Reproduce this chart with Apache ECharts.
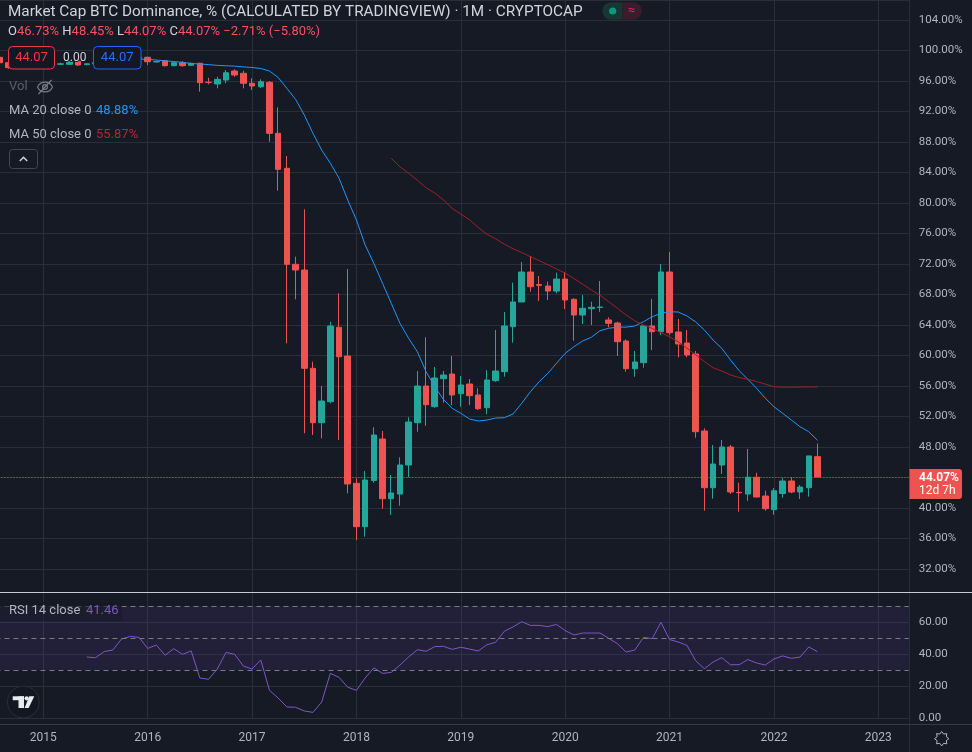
<!DOCTYPE html>
<html><head><meta charset="utf-8">
<script src="https://cdn.jsdelivr.net/npm/echarts@6/dist/echarts.min.js"></script>
<style>html,body{margin:0;padding:0;background:#161a25;}#c{width:972px;height:752px;}</style>
</head><body><div id="c"></div>
<script>
// ---- categories: monthly bars Aug 2014 .. Apr 2023 ----
const months = [];
for (let k = 0; k < 105; k++) { const d = 2014 * 12 + 7 + k; months.push(Math.floor(d / 12) + '-' + String(d % 12 + 1).padStart(2, '0')); }

// ---- OHLC (Aug 2014 .. Jun 2022), % ----
const open = [99.11,98.40,97.75,98.10,97.90,98.20,98.40,98.20,98.19,98.60,98.15,98.25,98.40,98.30,98.60,98.90,99.00,
  99.11,98.50,98.66,98.01,98.40,98.06,98.32,95.85,95.61,96.13,97.31,97.01,
  95.70,95.25,95.83,89.14,84.55,71.96,71.21,58.32,51.19,53.94,63.70,59.93,
  43.24,37.55,43.60,49.05,41.22,41.83,45.64,51.19,56.00,53.29,56.96,57.57,
  54.99,56.26,54.82,53.15,56.70,57.88,63.78,67.02,70.95,69.30,69.11,68.45,
  70.03,67.37,65.31,66.14,66.30,64.66,64.26,61.90,58.27,59.06,63.87,63.12,
  70.95,63.08,61.64,60.20,50.10,42.66,45.64,48.00,42.05,41.83,44.03,41.57,
  39.78,41.90,43.54,42.10,42.66,46.73];
const close = [98.40,97.75,98.10,97.90,98.20,98.40,98.25,98.25,98.53,98.10,98.25,98.40,98.30,98.60,98.90,99.00,99.10,
  98.53,98.56,98.01,98.40,98.01,98.32,95.78,95.80,96.22,97.09,96.79,95.70,
  95.34,95.91,89.14,84.42,71.96,71.21,58.32,51.19,54.03,63.87,59.84,43.15,
  37.55,43.67,49.57,41.22,41.97,45.64,51.28,56.00,53.55,57.05,57.44,54.82,
  56.13,54.73,53.02,56.79,57.97,63.87,67.02,70.95,69.02,69.20,68.45,70.03,
  67.28,65.31,66.19,66.32,66.36,64.22,61.81,58.27,59.15,63.87,63.12,70.95,
  62.99,61.51,60.07,50.01,42.66,45.77,48.00,42.10,42.00,44.03,41.44,39.91,
  42.27,43.54,42.10,42.75,46.83,44.07];
const low = [98.30,97.60,97.60,97.70,97.80,98.00,98.10,98.10,98.10,98.00,98.05,98.15,98.20,98.20,98.50,98.80,98.90,
  98.10,98.40,97.90,97.95,97.88,97.95,94.60,95.57,95.04,95.70,96.56,95.04,
  94.82,95.10,88.04,81.61,61.60,67.37,49.80,49.57,49.14,53.73,48.92,41.93,
  35.80,36.24,43.32,39.91,39.08,40.30,44.02,50.00,50.79,53.15,53.81,53.51,
  53.29,53.51,52.85,52.29,56.56,57.22,61.68,67.00,68.37,67.15,67.28,68.16,
  66.10,61.94,64.13,64.00,65.74,63.70,59.93,57.87,57.22,58.40,60.72,62.69,
  62.69,59.76,59.76,49.22,39.65,41.22,44.46,41.83,39.51,40.95,41.40,39.65,
  39.12,41.35,41.93,41.18,41.48,44.07];
const high = [99.20,98.50,98.30,98.30,98.35,98.60,98.50,98.40,98.60,98.70,98.35,98.50,98.55,98.70,99.00,99.15,99.20,
  99.20,98.70,98.75,98.50,98.62,98.40,98.40,96.43,96.56,97.44,97.53,97.35,
  96.35,96.22,96.00,92.55,86.16,72.96,79.17,59.19,56.00,64.43,68.16,71.34,
  43.90,44.85,50.58,50.10,44.33,46.65,51.89,57.97,62.39,58.49,57.97,59.93,
  57.31,56.92,55.70,58.10,63.34,65.70,69.55,72.26,73.05,70.43,69.68,70.86,
  70.95,67.50,67.93,67.05,69.77,65.01,64.43,62.12,60.59,63.95,67.41,72.00,
  73.57,64.79,63.34,60.59,50.45,48.26,48.92,48.26,43.32,47.74,44.63,42.27,
  42.62,43.93,44.02,43.01,46.83,48.45];

// ---- MA 20 (from Nov 2015) and MA 50 (from May 2018) ----
const ma20Start = 15;
const ma20Values = [98.90,98.87,98.85,98.75,98.65,98.55,98.45,98.30,98.23,98.15,98.05,98.00,97.95,97.85,
  97.77,97.64,97.31,96.46,95.04,93.60,91.54,89.14,86.95,85.21,83.24,80.39,
  77.77,74.49,72.09,69.47,66.85,64.22,62.26,60.50,57.88,55.91,54.25,53.07,
  52.42,51.67,51.41,51.54,51.80,51.84,52.33,53.73,55.25,56.56,57.66,58.98,
  60.29,61.15,61.90,62.39,63.25,63.57,63.72,63.72,63.87,64.43,65.09,65.53,
  65.74,65.70,65.18,64.40,63.34,62.03,60.94,59.41,58.00,56.88,55.70,54.39,
  53.28,52.42,51.54,50.66,50.00,48.88];
const ma50Start = 45;
const ma50Values = [85.86,84.76,83.90,83.00,82.00,81.30,80.40,79.30,
  78.55,77.80,76.80,75.90,75.30,74.60,74.00,73.50,72.96,72.45,71.90,71.35,
  70.80,70.10,69.35,68.60,67.90,67.05,66.20,65.30,64.55,64.00,63.55,63.00,
  62.45,61.80,60.95,60.10,59.20,58.40,57.97,57.45,57.10,56.90,56.60,56.25,
  55.90,55.85,55.85,55.86,55.88,55.87];

// ---- RSI 14 (from Jun 2015) ----
const rsiStart = 10;
const rsiValues = [38.1,37.7,41.5,42.5,49.4,51.0,50.4,
  43.5,45.6,39.2,43.3,39.8,41.9,25.0,24.2,30.6,41.0,39.8,32.5,
  30.6,36.3,17.3,12.5,6.9,6.7,4.4,3.5,10.0,27.9,25.4,19.2,
  17.3,25.0,31.3,27.9,28.5,33.1,38.1,42.7,41.7,44.6,44.8,42.9,
  44.2,43.1,41.9,45.8,47.3,54.2,56.9,60.2,57.9,57.9,57.1,58.5,
  54.6,51.9,53.1,53.1,53.1,49.8,46.5,41.2,42.5,50.4,49.6,59.8,
  49.0,47.5,45.4,35.8,30.8,35.0,37.7,33.3,33.3,36.5,34.4,33.1,
  36.9,38.8,37.3,38.1,44.4,41.46];

const lastPrice = 44.07;
const rsiLevels = [70, 50, 30];

// ---- build ----
const pad = (start, vals) => new Array(start).fill(null).concat(vals);
const candles = open.map((o, i) => [o, close[i], low[i], high[i]]);
const ma20 = pad(ma20Start, ma20Values);
const ma50 = pad(ma50Start, ma50Values);
const rsi = pad(rsiStart, rsiValues);

const BG = '#161a25', GRID = '#2a2e39', TXT = '#b2b5be', UP = '#26a69a', DOWN = '#ef5350';
const FONT = 'Roboto, "Noto Sans", "DejaVu Sans", sans-serif';
const isJan = (i, v) => v.slice(5) === '01';

const chart = echarts.init(document.getElementById('c'), null, { renderer: 'canvas' });
chart.setOption({
  backgroundColor: BG,
  animation: false,
  textStyle: { fontFamily: FONT },
  grid: [
    { left: -4.54, top: 0, width: 913.34, height: 569, outerBoundsMode: 'none', containLabel: false },
    { left: -4.54, top: 592, width: 913.34, height: 126, outerBoundsMode: 'none', containLabel: false }
  ],
  xAxis: [
    { type: 'category', gridIndex: 0, data: months, boundaryGap: true, position: 'top',
      axisLine: { show: false }, axisLabel: { show: false }, splitLine: { show: false },
      axisTick: { show: true, inside: true, length: 592, alignWithLabel: true, interval: isJan, lineStyle: { color: GRID } } },
    { type: 'category', gridIndex: 1, data: months, boundaryGap: true, position: 'bottom', offset: 6,
      axisLine: { show: false }, splitLine: { show: false },
      axisTick: { show: true, inside: true, length: 132, alignWithLabel: true, interval: isJan, lineStyle: { color: GRID } },
      axisLabel: { show: true, interval: isJan, formatter: v => v.slice(0, 4), color: TXT, fontSize: 12, margin: 8, fontFamily: FONT } }
  ],
  yAxis: [
    { type: 'value', gridIndex: 0, position: 'right', min: 32, max: 106.623, interval: 4,
      axisLine: { show: false }, axisTick: { show: false }, splitLine: { lineStyle: { color: GRID } },
      axisLabel: { color: TXT, fontSize: 11.5, margin: 10, showMaxLabel: false, fontFamily: FONT, formatter: v => v.toFixed(2) + '%' } },
    { type: 'value', gridIndex: 1, position: 'right', min: 0, max: 78.75, interval: 20,
      axisLine: { show: false }, axisTick: { show: false }, splitLine: { lineStyle: { color: GRID } },
      axisLabel: { color: TXT, fontSize: 11.5, margin: 10, showMaxLabel: false, fontFamily: FONT, formatter: v => v.toFixed(2) } }
  ],
  series: [
    { type: 'candlestick', xAxisIndex: 0, yAxisIndex: 0, data: candles, barWidth: 6,
      itemStyle: { color: UP, color0: DOWN, borderColor: UP, borderColor0: DOWN, borderWidth: 1 },
      markLine: { silent: true, symbol: ['none', 'none'], label: { show: false },
        lineStyle: { color: DOWN, type: [1, 2], width: 1 }, data: [{ yAxis: lastPrice }] } },
    { type: 'line', xAxisIndex: 0, yAxisIndex: 0, data: ma20, symbol: 'none', silent: true, z: 3,
      lineStyle: { color: '#2196f3', width: 1 } },
    { type: 'line', xAxisIndex: 0, yAxisIndex: 0, data: ma50, symbol: 'none', silent: true, z: 3,
      lineStyle: { color: '#a11f26', width: 1 } },
    { type: 'line', xAxisIndex: 1, yAxisIndex: 1, data: rsi, symbol: 'none', silent: true, z: 3,
      lineStyle: { color: '#7e57c2', width: 1 },
      markArea: { silent: true, itemStyle: { color: 'rgba(125,70,200,0.12)' },
        data: [[{ yAxis: rsiLevels[2] }, { yAxis: rsiLevels[0] }]] },
      markLine: { silent: true, symbol: ['none', 'none'], label: { show: false },
        lineStyle: { color: '#787b86', type: [5, 4], width: 1 },
        data: rsiLevels.map(v => ({ yAxis: v })) } }
  ]
});

// ---- overlay decorations ----
const yp = chart.convertToPixel({ yAxisIndex: 0 }, lastPrice);
const txt = (x, y, text, fill, size, extra) => Object.assign({
  type: 'text', z: 100, style: Object.assign({ x, y, text, fill, font: (size || 13) + 'px ' + FONT,
    textVerticalAlign: 'middle', verticalAlign: 'middle' }, extra || {}) });
const gearPts = [];
for (let k = 0; k < 16; k++) { const a = Math.PI * 2 * k / 16, r = k % 2 ? 5 : 7.2; gearPts.push([941.7 + r * Math.cos(a), 738.7 + r * Math.sin(a)]); }

const g = [
  // title
  txt(8, 12, 'Market Cap BTC Dominance, % (CALCULATED BY TRADINGVIEW) · 1M · CRYPTOCAP', '#d1d4dc', 15.3),
  { type: 'rect', z: 100, shape: { x: 602.3, y: 2.3, width: 20, height: 17.4, r: [8.7, 0, 0, 8.7] }, style: { fill: '#183634' } },
  { type: 'rect', z: 100, shape: { x: 622.3, y: 2.3, width: 19.5, height: 17.4, r: [0, 8.7, 8.7, 0] }, style: { fill: '#3a1c2d' } },
  { type: 'circle', z: 101, shape: { cx: 612.7, cy: 11, r: 3.6 }, style: { fill: '#089981' } },
  txt(631.5, 10.5, '≈', '#e91e63', 13, { textAlign: 'center', align: 'center' }),
  // OHLC
  { type: 'text', z: 100, style: { x: 8, y: 32, textVerticalAlign: 'middle', verticalAlign: 'middle', font: '13px ' + FONT,
      text: '{l|O}{v|46.73%} {l|H}{v|48.45%} {l|L}{v|44.07%} {l|C}{v|44.07%} {v|−2.71% (−5.80%)}',
      rich: { l: { fill: '#d1d4dc', color: '#d1d4dc', font: '13px ' + FONT }, v: { fill: '#f7525f', color: '#f7525f', font: '13px ' + FONT } } } },
  // value boxes
  { type: 'rect', z: 100, shape: { x: 8.5, y: 46.5, width: 46, height: 22.5, r: 4 }, style: { fill: '#141823', stroke: '#f23645', lineWidth: 1 } },
  txt(31.5, 58, '44.07', '#f23645', 13, { textAlign: 'center', align: 'center' }),
  txt(63, 58, '0.00', '#d1d4dc', 12, { stroke: '#131722', lineWidth: 2 }),
  { type: 'rect', z: 100, shape: { x: 93.5, y: 46.5, width: 47.5, height: 22.5, r: 4 }, style: { fill: '#141823', stroke: '#2962ff', lineWidth: 1 } },
  txt(117.2, 58, '44.07', '#2e6bff', 13, { textAlign: 'center', align: 'center' }),
  // Vol + hidden eye
  txt(9, 87, 'Vol', '#5d606b', 13),
  { type: 'bezierCurve', z: 100, shape: { x1: 37.5, y1: 87, x2: 52.5, y2: 87, cpx1: 40.5, cpy1: 80.5, cpx2: 49.5, cpy2: 80.5 }, style: { stroke: '#787b86', fill: null, lineWidth: 1.2 } },
  { type: 'bezierCurve', z: 100, shape: { x1: 37.5, y1: 87, x2: 52.5, y2: 87, cpx1: 40.5, cpy1: 93.5, cpx2: 49.5, cpy2: 93.5 }, style: { stroke: '#787b86', fill: null, lineWidth: 1.2 } },
  { type: 'circle', z: 100, shape: { cx: 45, cy: 87, r: 2.4 }, style: { stroke: '#787b86', fill: null, lineWidth: 1.2 } },
  { type: 'line', z: 100, shape: { x1: 38.5, y1: 94, x2: 51.5, y2: 80 }, style: { stroke: '#787b86', lineWidth: 1.2 } },
  // MA legends
  txt(9, 111, 'MA 20 close 0', '#b2b5be', 13),
  txt(96, 111, '48.88%', '#2196f3', 13),
  txt(9, 135, 'MA 50 close 0', '#b2b5be', 13),
  txt(96, 135, '55.87%', '#b22833', 13),
  { type: 'rect', z: 100, shape: { x: 9.5, y: 149.5, width: 28, height: 19, r: 3 }, style: { fill: BG, stroke: '#434651', lineWidth: 1 } },
  { type: 'polyline', z: 101, shape: { points: [[19.8, 161], [23.5, 157.3], [27.2, 161]] }, style: { stroke: '#d1d4dc', fill: null, lineWidth: 1.5 } },
  // borders
  { type: 'line', z: 90, shape: { x1: 909.5, y1: 0, x2: 909.5, y2: 752 }, style: { stroke: GRID, lineWidth: 1 } },
  { type: 'line', z: 90, shape: { x1: 0, y1: 724.5, x2: 972, y2: 724.5 }, style: { stroke: '#363a45', lineWidth: 1 } },
  { type: 'line', z: 90, shape: { x1: 0, y1: 592.5, x2: 972, y2: 592.5 }, style: { stroke: '#c7cad1', lineWidth: 1 } },
  // last price label
  { type: 'rect', z: 100, shape: { x: 909.5, y: yp - 8, width: 52.5, height: 30, r: [0, 3, 3, 0] }, style: { fill: DOWN } },
  txt(919, yp + 1, lastPrice.toFixed(2) + '%', '#ffffff', 12, { font: 'bold 12px ' + FONT }),
  txt(919, yp + 14.5, '12d 7h', '#ffffff', 12),
  // RSI legend
  { type: 'rect', z: 95, shape: { x: 0, y: 602, width: 122, height: 19 }, style: { fill: 'rgba(22,26,37,0.55)' } },
  txt(9, 610.5, 'RSI 14 close', '#b2b5be', 13),
  txt(86, 610.5, '41.46', '#7e57c2', 13),
  // TradingView logo
  { type: 'circle', z: 100, shape: { cx: 23.3, cy: 702, r: 16 }, style: { fill: '#131722', stroke: '#2a2e39', lineWidth: 1 } },
  { type: 'rect', z: 101, shape: { x: 12.7, y: 696.3, width: 11.3, height: 3.9 }, style: { fill: '#e8eaed' } },
  { type: 'rect', z: 101, shape: { x: 18.5, y: 696.3, width: 5.5, height: 11.7 }, style: { fill: '#e8eaed' } },
  { type: 'circle', z: 101, shape: { cx: 26.6, cy: 698.3, r: 2.1 }, style: { fill: '#e8eaed' } },
  { type: 'polygon', z: 101, shape: { points: [[29.2, 696.3], [34.3, 696.3], [28.6, 708], [24.6, 708]] }, style: { fill: '#e8eaed' } },
  // settings icon
  { type: 'polygon', z: 100, shape: { points: gearPts }, style: { fill: null, stroke: '#b2b5be', lineWidth: 1 } }
];
chart.setOption({ graphic: { elements: g } });
</script></body></html>
